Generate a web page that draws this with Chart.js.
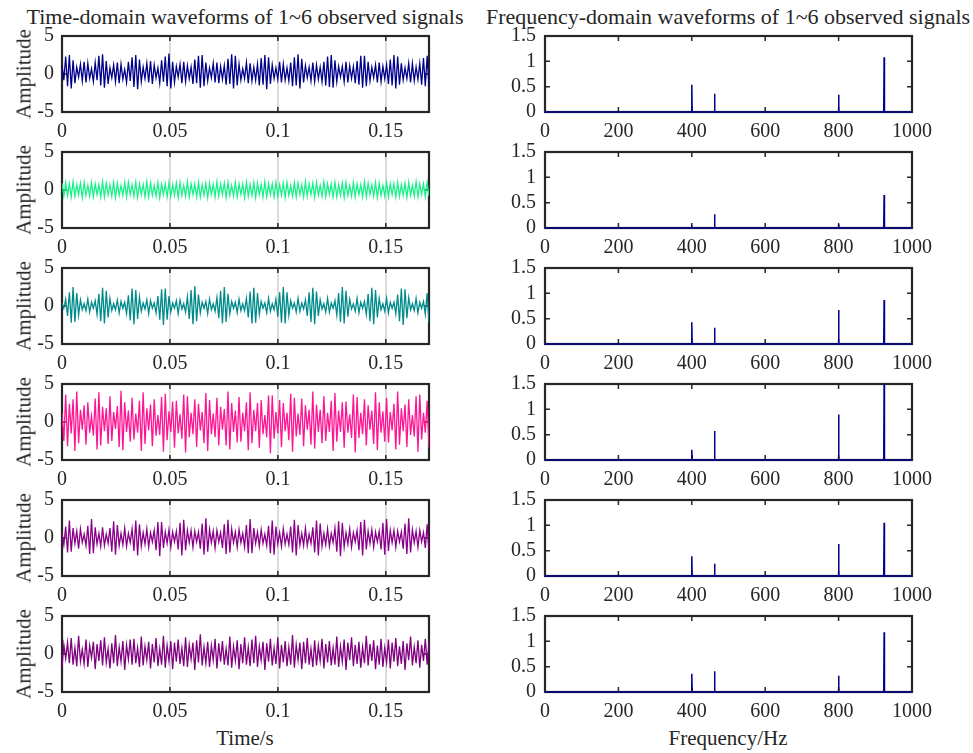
<!DOCTYPE html>
<html><head><meta charset="utf-8">
<script src="https://cdn.jsdelivr.net/npm/chart.js@4.4.1/dist/chart.umd.min.js"></script>
<style>
html,body{margin:0;padding:0;background:#fff}
body{width:973px;height:753px;overflow:hidden;position:relative;font-family:"Liberation Serif","Times New Roman",serif;color:#262626}
canvas{position:absolute}
.t{position:absolute;white-space:nowrap;line-height:1}
</style></head><body>
<div class="t" style="left:245px;top:6px;font-size:22px;transform:translateX(-50%)">Time-domain waveforms of 1~6 observed signals</div>
<div class="t" style="left:728px;top:6px;font-size:22px;transform:translateX(-50%)">Frequency-domain waveforms of 1~6 observed signals</div>
<div class="t" style="left:245px;top:728px;font-size:21px;transform:translateX(-50%)">Time/s</div>
<div class="t" style="left:728px;top:728px;font-size:21px;transform:translateX(-50%)">Frequency/Hz</div>
<script>
// ---------- data ----------
const timeTicks = [0, 0.05, 0.1, 0.15];
const timeMax = 0.17;
const ampTicks = [-5, 0, 5];
const freqTicks = [0, 200, 400, 600, 800, 1000];
const magTicks = [0, 0.5, 1, 1.5];
const peakFreqs = [400, 462, 800, 924];

const sig1 = [1.2,-0.8,2.3,-1.6,2.5,-1.9,1.8,-1.2,0.9,-0.4,1.3,-0.9,1.6,-1.1,1.4,-0.6,0.7,-1.0,1.5,-0.8,
2.4,-1.5,2.6,-1.8,1.7,-1.3,0.8,-0.5,1.2,-1.0,1.5,-1.2,1.3,-0.7,0.6,-1.1,1.6,-0.9,2.2,-1.7,
2.5,-2.0,1.9,-1.0,0.9,-0.6,1.4,-1.1,1.7,-1.3,1.2,-0.5,0.8,-1.2,1.8,-1.0,2.3,-1.6,2.7,-1.9,
1.6,-1.1,1.0,-0.4,1.3,-1.2,1.6,-1.0,1.1,-0.6,0.9,-1.3,1.9,-1.2,2.4,-1.8,2.5,-1.6,1.5,-0.9,
0.8,-0.5,1.4,-1.1,1.5,-1.2,1.0,-0.7,1.1,-1.4,2.0,-1.3,2.6,-1.9,2.4,-1.5,1.3,-0.8,0.7,-0.6,
1.5,-1.2,1.4,-0.9,0.9,-0.8,1.3,-1.5,2.1,-1.4,2.5,-2.0,2.2,-1.3,1.2,-0.6,0.8,-0.7,1.6,-1.1,
1.3,-0.8,0.8,-0.9,1.5,-1.6,2.2,-1.5,2.6,-1.9,2.0,-1.1,1.1,-0.5,0.9,-0.9,1.5,-1.0,1.2,-0.7,
0.9,-1.0,1.6,-1.5,2.3,-1.7,2.5,-1.8,1.8,-1.0,1.0,-0.4,1.0,-1.0,1.6,-1.1,1.1,-0.6,1.0,-1.2,
1.7,-1.4,2.4,-1.8,2.4,-1.6,1.6,-0.9,0.9,-0.5,1.2,-1.1,1.5,-1.0,1.0,-0.6,1.2,-1.3,1.9,-1.5,
2.5,-1.9,2.3,-1.4,1.4,-0.8,0.8,-0.6,1.4,-1.1,1.4,-0.9,0.9,-0.7,1.4,-1.4,2.1,-1.6,2.4,-1.7];

const sig2 = [0.9,-0.8,1.0,-0.7,0.8,-0.9,1.1,-0.8,0.7,-0.6,0.9,-1.0,1.0,-0.7,0.6,-0.8,1.0,-0.9,0.8,-0.6,
0.7,-0.9,1.1,-0.9,0.9,-0.6,0.7,-0.8,1.0,-1.0,0.9,-0.7,0.6,-0.7,1.0,-0.9,1.0,-0.6,0.7,-0.8,
1.0,-1.0,0.8,-0.6,0.7,-0.9,1.1,-0.9,0.9,-0.7,0.6,-0.8,1.0,-1.0,0.8,-0.6,0.8,-0.9,1.0,-0.8,
0.7,-0.7,0.9,-1.0,1.0,-0.7,0.6,-0.8,1.1,-0.9,0.8,-0.6,0.8,-0.9,1.0,-0.9,0.7,-0.7,0.9,-1.0,
0.9,-0.6,0.7,-0.9,1.1,-0.8,0.8,-0.6,0.9,-1.0,1.0,-0.7,0.6,-0.8,1.0,-0.9,0.8,-0.6,0.8,-1.0,
1.0,-0.8,0.7,-0.7,1.0,-1.0,0.9,-0.6,0.7,-0.9,1.1,-0.9,0.8,-0.6,0.8,-0.9,1.0,-0.8,0.7,-0.7,
0.9,-1.0,1.0,-0.7,0.6,-0.8,1.0,-0.9,0.9,-0.6,0.7,-0.9,1.1,-0.8,0.8,-0.6,0.9,-1.0,1.0,-0.7,
0.6,-0.8,1.1,-0.9,0.8,-0.6,0.8,-0.9,1.0,-0.9,0.7,-0.7,0.9,-1.0,1.0,-0.7,0.6,-0.8,1.0,-0.9,
0.8,-0.6,0.7,-0.9,1.1,-0.9,0.9,-0.6,0.7,-0.8,1.0,-1.0,0.9,-0.7,0.6,-0.8,1.0,-0.9,0.8,-0.6,
0.8,-0.9,1.0,-0.8,0.7,-0.7,0.9,-1.0,1.0,-0.7,0.6,-0.8,1.1,-0.9,0.8,-0.6,0.8,-0.9,1.0,-0.8];

const sig3 = [0.4,-0.3,0.9,-1.3,1.8,-2.2,2.5,-2.1,1.7,-1.2,0.8,-0.5,0.3,-0.6,0.9,-0.8,0.5,-0.3,0.7,-1.1,
1.6,-2.0,2.4,-2.3,2.0,-1.5,1.0,-0.6,0.3,-0.5,0.8,-0.9,0.6,-0.3,0.5,-1.0,1.4,-1.9,2.3,-2.4,
2.1,-1.7,1.2,-0.7,0.4,-0.4,0.8,-1.0,0.7,-0.3,0.4,-0.9,1.3,-1.8,2.2,-2.5,2.3,-1.8,1.3,-0.8,
0.4,-0.3,0.7,-1.0,0.8,-0.4,0.3,-0.8,1.2,-1.7,2.1,-2.4,2.6,-2.0,1.5,-0.9,0.5,-0.3,0.6,-1.0,
0.9,-0.5,0.3,-0.7,1.1,-1.6,2.0,-2.3,2.5,-2.1,1.6,-1.0,0.6,-0.3,0.5,-0.9,0.9,-0.6,0.3,-0.6,
1.0,-1.5,1.9,-2.3,2.4,-2.2,1.7,-1.1,0.6,-0.3,0.4,-0.9,1.0,-0.7,0.3,-0.5,0.9,-1.4,1.8,-2.2,
2.5,-2.3,1.8,-1.2,0.7,-0.3,0.4,-0.8,1.0,-0.7,0.4,-0.4,0.8,-1.3,1.8,-2.1,2.4,-2.4,1.9,-1.3,
0.8,-0.4,0.3,-0.8,1.0,-0.8,0.4,-0.3,0.7,-1.2,1.7,-2.1,2.5,-2.3,2.0,-1.4,0.9,-0.4,0.3,-0.7,
1.0,-0.9,0.5,-0.3,0.6,-1.1,1.6,-2.0,2.4,-2.4,2.1,-1.5,1.0,-0.5,0.3,-0.7,1.0,-0.9,0.5,-0.3,
0.5,-1.0,1.5,-2.0,2.3,-2.5,2.2,-1.6,1.1,-0.5,0.3,-0.6,1.0,-0.9,0.5,-0.3,0.6,-1.1,1.7,-2.2];

const sig4 = [1.2,-2.5,3.6,-3.2,2.4,-1.5,3.0,-3.8,4.0,-2.8,1.6,-1.0,2.2,-3.0,2.6,-1.4,0.8,-1.8,3.1,-3.6,
3.9,-3.1,2.0,-1.2,1.8,-2.9,3.4,-2.5,1.3,-0.9,2.1,-3.3,4.1,-3.7,2.6,-1.3,1.5,-2.6,3.2,-2.3,
1.1,-1.4,2.8,-3.8,3.9,-2.9,1.8,-1.1,2.3,-3.2,3.0,-1.8,0.9,-1.7,3.3,-3.9,3.7,-2.4,1.4,-1.3,
2.7,-3.4,2.8,-1.5,1.0,-2.2,3.6,-4.0,3.4,-2.0,1.2,-1.6,3.0,-3.3,2.4,-1.1,1.3,-2.8,3.8,-3.8,
2.9,-1.6,1.1,-2.0,3.2,-3.1,2.0,-1.0,1.7,-3.1,4.0,-3.6,2.5,-1.3,1.5,-2.7,3.3,-2.6,1.2,-1.2,
2.6,-3.7,3.9,-2.8,1.6,-1.2,2.5,-3.4,2.9,-1.6,0.9,-2.0,3.5,-4.1,3.5,-2.2,1.3,-1.5,2.9,-3.3,
2.5,-1.2,1.2,-2.4,3.7,-3.9,3.2,-1.9,1.1,-1.7,3.1,-3.2,2.2,-1.0,1.6,-3.0,4.0,-3.5,2.3,-1.3,
1.6,-2.8,3.4,-2.5,1.2,-1.3,2.8,-3.8,3.8,-2.6,1.5,-1.3,2.6,-3.4,2.7,-1.4,1.0,-2.1,3.6,-4.0,
3.3,-2.1,1.2,-1.6,3.0,-3.1,2.2,-1.0,1.5,-2.9,3.9,-3.7,2.6,-1.4,1.4,-2.6,3.2,-2.7,1.3,-1.1,
2.4,-3.6,4.0,-3.0,1.8,-1.2,2.3,-3.3,3.0,-1.7,0.9,-1.9,3.4,-3.9,3.6,-2.3,1.2,-1.4,2.8,-3.5];

const sig5 = [0.6,-0.9,1.5,-1.9,2.3,-1.8,1.3,-0.7,0.9,-1.4,1.2,-0.6,0.5,-1.0,1.6,-2.1,2.5,-2.0,1.4,-0.8,
0.6,-1.1,1.4,-1.0,0.5,-0.7,1.3,-1.8,2.2,-2.2,1.7,-1.0,0.6,-0.9,1.3,-1.1,0.6,-0.6,1.2,-1.7,
2.3,-2.3,1.8,-1.1,0.7,-0.8,1.2,-1.2,0.7,-0.5,1.0,-1.6,2.1,-2.4,2.1,-1.3,0.8,-0.7,1.1,-1.2,
0.8,-0.5,0.9,-1.5,2.0,-2.3,2.4,-1.6,1.0,-0.6,1.0,-1.2,0.9,-0.5,0.8,-1.4,1.9,-2.2,2.6,-1.8,
1.1,-0.6,0.9,-1.3,1.0,-0.5,0.7,-1.3,1.8,-2.1,2.4,-1.9,1.2,-0.6,0.8,-1.2,1.1,-0.6,0.6,-1.2,
1.7,-2.0,2.5,-2.0,1.3,-0.7,0.8,-1.1,1.1,-0.7,0.5,-1.0,1.6,-2.0,2.3,-2.2,1.5,-0.8,0.7,-1.1,
1.2,-0.8,0.5,-0.9,1.5,-1.9,2.4,-2.3,1.7,-0.9,0.6,-1.0,1.3,-1.0,0.5,-0.7,1.4,-1.9,2.3,-2.3,
1.9,-1.1,0.6,-0.9,1.2,-1.1,0.6,-0.6,1.3,-1.8,2.2,-2.4,2.0,-1.2,0.7,-0.8,1.2,-1.2,0.7,-0.5,
1.0,-1.6,2.1,-2.3,2.4,-1.5,0.9,-0.7,1.1,-1.2,0.8,-0.5,0.9,-1.5,2.0,-2.2,2.5,-1.7,1.0,-0.6,
1.0,-1.2,0.9,-0.5,0.8,-1.4,1.9,-2.1,2.6,-1.9,1.1,-0.6,0.9,-1.2,1.0,-0.5,0.7,-1.3,1.8,-2.0];

const sig6 = [-1.8,1.2,-0.6,1.5,-1.2,2.1,-1.4,0.8,-1.6,2.4,-1.0,0.6,-1.3,1.9,-1.7,1.1,-0.5,1.6,-2.0,1.3,
-0.9,1.8,-1.5,2.2,-1.1,0.7,-1.9,1.4,-1.2,2.5,-1.6,0.9,-1.0,1.7,-2.1,1.2,-0.7,1.9,-1.4,2.0,
-1.2,0.8,-1.7,2.3,-1.5,1.0,-0.8,1.6,-1.9,1.3,-1.1,2.1,-1.6,0.7,-1.4,2.4,-1.8,1.1,-0.9,1.7,
-2.0,1.5,-1.0,1.9,-1.3,0.8,-1.6,2.2,-1.7,1.2,-0.7,1.5,-2.1,1.8,-1.1,2.6,-1.5,0.9,-1.2,1.6,
-1.7,1.1,-0.8,2.0,-1.9,1.4,-1.0,1.7,-1.4,0.7,-1.5,2.3,-1.8,1.0,-0.9,1.8,-2.0,1.3,-1.2,2.2,
-1.4,0.9,-1.6,1.9,-1.2,2.4,-1.7,1.0,-0.8,1.6,-2.1,1.4,-1.0,2.0,-1.5,0.8,-1.3,2.2,-1.9,1.2,
-1.1,1.7,-1.6,0.9,-1.4,2.5,-1.8,1.2,-0.8,1.5,-2.0,1.6,-1.2,2.1,-1.4,0.7,-1.7,1.8,-1.5,1.1,
-0.9,2.0,-1.9,1.3,-1.1,1.7,-1.5,0.8,-1.4,2.3,-1.7,1.0,-1.0,1.9,-2.1,1.5,-0.8,2.2,-1.6,1.2,
-1.3,1.6,-1.8,0.9,-1.2,2.4,-1.5,1.3,-0.9,1.8,-2.0,1.1,-1.4,2.0,-1.7,0.8,-1.1,1.9,-1.9,1.5,
-1.0,2.1,-1.6,1.0,-1.3,1.7,-2.1,1.4,-0.8,2.3,-1.5,0.9,-1.2,1.8,-1.8,1.2,-0.9,2.0,-1.4,1.6];

const spec1 = [0.54, 0.36, 0.34, 1.08];
const spec2 = [0.02, 0.27, 0.07, 0.65];
const spec3 = [0.43, 0.32, 0.67, 0.87];
const spec4 = [0.20, 0.57, 0.90, 1.60];
const spec5 = [0.39, 0.24, 0.63, 1.05];
const spec6 = [0.36, 0.41, 0.32, 1.18];

const timeSignals = [sig1, sig2, sig3, sig4, sig5, sig6];
const spectra = [spec1, spec2, spec3, spec4, spec5, spec6];
const timeColors = ['#00008B', '#17F387', '#008B8B', '#FF1493', '#8B008B', '#800080'];
const specColor = '#00008B';

// ---------- drawing ----------
Chart.defaults.font.family = '"Liberation Serif","Times New Roman",serif';
Chart.defaults.font.size = 20;
Chart.defaults.color = '#262626';
Chart.defaults.animation = false;

const fmt = v => String(Math.round(v * 1000) / 1000);

function framePlugin(xt, yt) {
  return {
    id: 'frame',
    beforeDatasetsDraw(chart) {
      const {ctx, chartArea: a, scales: {x, y}} = chart;
      ctx.save();
      ctx.strokeStyle = '#262626';
      ctx.lineWidth = 1.5;
      ctx.beginPath();
      xt.forEach(v => {
        const p = x.getPixelForValue(v);
        ctx.moveTo(p, a.bottom); ctx.lineTo(p, a.bottom - 5);
        ctx.moveTo(p, a.top); ctx.lineTo(p, a.top + 5);
      });
      yt.forEach(v => {
        const p = y.getPixelForValue(v);
        ctx.moveTo(a.left, p); ctx.lineTo(a.left + 5, p);
        ctx.moveTo(a.right, p); ctx.lineTo(a.right - 5, p);
      });
      ctx.stroke();
      ctx.lineWidth = 2.2;
      ctx.strokeRect(a.left, a.top, a.right - a.left, a.bottom - a.top);
      ctx.restore();
    }
  };
}

function addCanvas(left, top, w, h) {
  const c = document.createElement('canvas');
  c.width = w; c.height = h;
  c.style.left = left + 'px'; c.style.top = top + 'px';
  c.style.width = w + 'px'; c.style.height = h + 'px';
  document.body.appendChild(c);
  return c;
}

function addLabel(text, cx, cy) {
  const d = document.createElement('div');
  d.className = 't';
  d.textContent = text;
  d.style.fontSize = '21px';
  d.style.left = cx + 'px'; d.style.top = cy + 'px';
  d.style.transform = 'translate(-50%,-50%) rotate(-90deg)';
  document.body.appendChild(d);
}

const rowTop0 = 36, rowStep = 116, plotH = 76, padTop = 24, xBoxH = 30;

for (let r = 0; r < 6; r++) {
  const top = rowTop0 + r * rowStep;
  // ----- time domain -----
  const sig = timeSignals[r];
  const pts = sig.map((v, i) => ({x: i * timeMax / (sig.length - 1), y: v}));
  const c1 = addCanvas(0, top - padTop, 470, padTop + plotH + xBoxH);
  new Chart(c1, {
    type: 'line',
    data: {datasets: [{data: pts, borderColor: timeColors[r], borderWidth: 1.3, pointRadius: 0, tension: 0}]},
    options: {
      responsive: false, devicePixelRatio: 1, animation: false,
      layout: {padding: {left: 0, top: padTop, right: 41, bottom: 0}},
      plugins: {legend: {display: false}, tooltip: {enabled: false}},
      scales: {
        x: {type: 'linear', min: 0, max: timeMax,
            afterFit: s => { s.height = xBoxH; },
            ticks: {stepSize: 0.05, includeBounds: false, padding: 8, maxRotation: 0, autoSkip: false, callback: fmt},
            grid: {display: true, color: '#dcdcdc', lineWidth: 2, drawTicks: false},
            border: {display: false}},
        y: {type: 'linear', min: -5, max: 5,
            afterFit: s => { s.width = 62; },
            ticks: {stepSize: 5, padding: 8, autoSkip: false, callback: fmt},
            grid: {display: false, drawTicks: false},
            border: {display: false}}
      }
    },
    plugins: [framePlugin(timeTicks, ampTicks)]
  });
  addLabel('Amplitude', 24, top + plotH / 2);

  // ----- frequency domain -----
  const sp = spectra[r];
  const fpts = [{x: 0, y: 0}];
  peakFreqs.forEach((f, i) => {
    fpts.push({x: f - 1, y: 0}, {x: f, y: sp[i]}, {x: f + 1, y: 0});
  });
  fpts.push({x: 1000, y: 0});
  const c2 = addCanvas(480, top - padTop, 493, padTop + plotH + xBoxH);
  new Chart(c2, {
    type: 'line',
    data: {datasets: [{data: fpts, borderColor: specColor, borderWidth: 1.5, pointRadius: 0, tension: 0,
                       clip: {left: 2, right: 2, top: 0, bottom: 3}}]},
    options: {
      responsive: false, devicePixelRatio: 1, animation: false,
      layout: {padding: {left: 0, top: padTop, right: 61, bottom: 0}},
      plugins: {legend: {display: false}, tooltip: {enabled: false}},
      scales: {
        x: {type: 'linear', min: 0, max: 1000,
            afterFit: s => { s.height = xBoxH; },
            ticks: {stepSize: 200, padding: 8, maxRotation: 0, autoSkip: false, callback: fmt},
            grid: {display: false, drawTicks: false},
            border: {display: false}},
        y: {type: 'linear', min: 0, max: 1.5,
            afterFit: s => { s.width = 65; },
            ticks: {stepSize: 0.5, padding: 9, autoSkip: false, callback: fmt},
            grid: {display: false, drawTicks: false},
            border: {display: false}}
      }
    },
    plugins: [framePlugin(freqTicks, magTicks)]
  });
}
</script>
</body></html>
